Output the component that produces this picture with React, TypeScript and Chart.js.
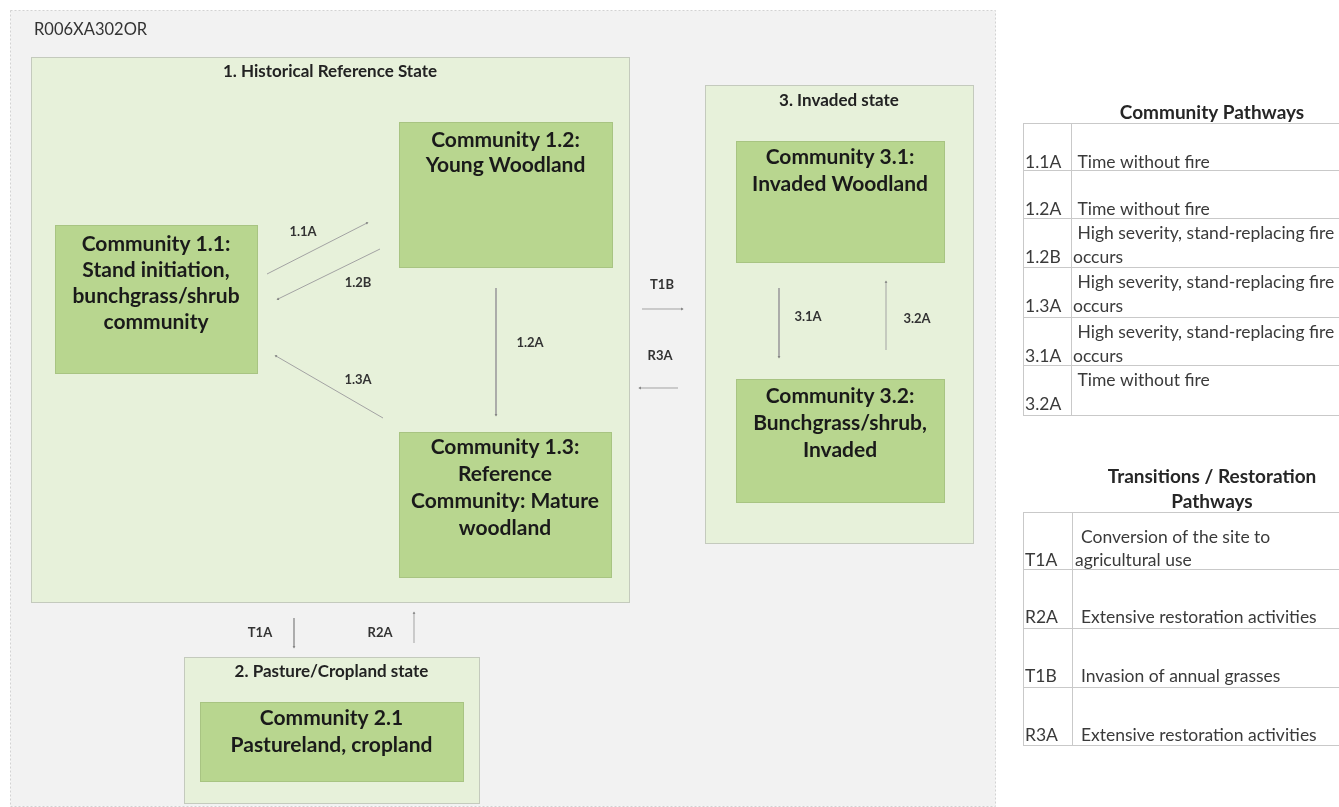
import React, { useEffect, useRef } from "react";
import { Chart, registerables } from "chart.js";

Chart.register(...registerables);

const PAGE_W = 1339;
const PAGE_H = 807;

// ---- Diagram content ----
const diagramId = "R006XA302OR";

const stateNames = [
  "1. Historical Reference State",
  "2. Pasture/Cropland state",
  "3. Invaded state",
];

const communityLines = [
  ["Community 1.1:", "Stand initiation,", "bunchgrass/shrub", "community"],
  ["Community 1.2:", "Young Woodland"],
  ["Community 1.3:", "Reference", "Community: Mature", "woodland"],
  ["Community 2.1", "Pastureland, cropland"],
  ["Community 3.1:", "Invaded Woodland"],
  ["Community 3.2:", "Bunchgrass/shrub,", "Invaded"],
];

const arrowCodes = ["1.1A", "1.2B", "1.2A", "1.3A", "T1B", "R3A", "3.1A", "3.2A", "T1A", "R2A"];

const pathwayCodes = ["1.1A", "1.2A", "1.2B", "1.3A", "3.1A", "3.2A"];
const pathwayTop = ["", "", " High severity, stand-replacing fire", " High severity, stand-replacing fire", " High severity, stand-replacing fire", " Time without fire"];
const pathwayBottom = [" Time without fire", " Time without fire", "occurs", "occurs", "occurs", ""];

const transitionCodes = ["T1A", "R2A", "T1B", "R3A"];
const transitionTop = ["  Conversion of the site to", "", "", ""];
const transitionBottom = ["agricultural use", "  Extensive restoration activities", "  Invasion of annual grasses", "  Extensive restoration activities"];

// ---- Layout (page coordinates) ----
const panelRect = [10, 10, 995, 806];
const stateRects = [
  [31, 57, 629, 602],
  [184, 657, 479, 803],
  [705, 85, 973, 543],
];
const stateTitleY = [72, 672, 101];
const communityRects = [
  [55, 225, 257, 373],
  [399, 122, 612, 267],
  [399, 432, 611, 577],
  [200, 702, 463, 781],
  [736, 141, 944, 262],
  [736, 379, 944, 502],
];
const communityFirstY = [244, 140, 447, 718, 157, 396];
const communityGap = [26, 25, 27, 27, 27, 27];

const arrowFrom = [[267, 274], [380, 249], [496, 288], [383, 418], [642, 309], [678, 388], [779, 288], [886, 350], [294, 618], [414, 643]];
const arrowTo = [[367, 223], [278, 299], [496, 415], [276, 356], [682, 309], [640, 388], [779, 357], [886, 282], [294, 647], [414, 613]];
const labelPos = [[303, 232], [358, 283], [530, 343], [358, 380], [662, 285], [660, 356], [808, 317], [917, 319], [260, 633], [380, 633]];

const pathwayRowLines = [123, 170, 218, 267, 317, 365, 415];
const transitionRowLines = [512, 569, 628, 687, 745];

const FONT = "Lato, 'Open Sans', sans-serif";

function drawDiagram(chart: any) {
  const ctx: CanvasRenderingContext2D = chart.ctx;
  const xs = chart.scales.x;
  const ys = chart.scales.y;
  const px = (v: number) => xs.getPixelForValue(v);
  const py = (v: number) => ys.getPixelForValue(v);

  const rect = (r: number[], fill: string, stroke: string, dash?: number[]) => {
    const x0 = Math.round(px(r[0])) + 0.5;
    const y0 = Math.round(py(r[1])) + 0.5;
    const x1 = Math.round(px(r[2])) + 0.5;
    const y1 = Math.round(py(r[3])) + 0.5;
    ctx.save();
    ctx.fillStyle = fill;
    ctx.fillRect(x0, y0, x1 - x0, y1 - y0);
    ctx.strokeStyle = stroke;
    ctx.lineWidth = 1;
    if (dash) ctx.setLineDash(dash);
    ctx.strokeRect(x0, y0, x1 - x0, y1 - y0);
    ctx.restore();
  };

  const text = (s: string, x: number, y: number, font: string, color: string, align: CanvasTextAlign) => {
    ctx.save();
    ctx.font = font;
    ctx.fillStyle = color;
    ctx.textAlign = align;
    ctx.textBaseline = "middle";
    ctx.fillText(s, px(x), py(y));
    ctx.restore();
  };

  const hline = (x0: number, x1: number, y: number, color: string) => {
    ctx.save();
    ctx.strokeStyle = color;
    ctx.lineWidth = 1;
    ctx.beginPath();
    ctx.moveTo(px(x0), Math.round(py(y)) + 0.5);
    ctx.lineTo(px(x1), Math.round(py(y)) + 0.5);
    ctx.stroke();
    ctx.restore();
  };
  const vline = (x: number, y0: number, y1: number, color: string) => {
    ctx.save();
    ctx.strokeStyle = color;
    ctx.lineWidth = 1;
    ctx.beginPath();
    ctx.moveTo(Math.round(px(x)) + 0.5, py(y0));
    ctx.lineTo(Math.round(px(x)) + 0.5, py(y1));
    ctx.stroke();
    ctx.restore();
  };

  // background panel
  rect(panelRect, "#f2f2f2", "#d2d2d2", [2, 2]);
  text(diagramId, 34, 30, `16.5px ${FONT}`, "#333333", "left");

  // states
  stateRects.forEach((r, i) => {
    rect(r, "#e7f1da", "#c4cabd");
    text(stateNames[i], (r[0] + r[2]) / 2, stateTitleY[i], `bold 17px ${FONT}`, "#222222", "center");
  });

  // communities
  communityRects.forEach((r, i) => {
    rect(r, "#b8d68f", "#a8c482");
    communityLines[i].forEach((line, j) => {
      text(line, (r[0] + r[2]) / 2, communityFirstY[i] + j * communityGap[i], `bold 21px ${FONT}`, "#1a1a1a", "center");
    });
  });

  // arrow labels
  arrowCodes.forEach((c, i) => {
    text(c, labelPos[i][0], labelPos[i][1], `bold 13px ${FONT}`, "#333333", "center");
  });

  // tables
  const tableLeft = 1023;
  const tableDiv = 1071;
  const tableRight = PAGE_W;
  const lineColor = "#c9c9c9";
  const tColor = "#3a3a3a";
  const tFont = `17.5px ${FONT}`;
  const hFont = `bold 19px ${FONT}`;

  text("Community Pathways", 1212, 113, hFont, "#262626", "center");
  pathwayRowLines.forEach((y) => hline(tableLeft, tableRight, y, lineColor));
  vline(tableLeft, pathwayRowLines[0], pathwayRowLines[pathwayRowLines.length - 1], lineColor);
  vline(tableDiv, pathwayRowLines[0], pathwayRowLines[pathwayRowLines.length - 1], lineColor);
  pathwayCodes.forEach((c, i) => {
    const top = pathwayRowLines[i];
    text(c, 1025, top + 39, tFont, tColor, "left");
    if (pathwayTop[i]) text(pathwayTop[i], 1073, top + 15, tFont, tColor, "left");
    if (pathwayBottom[i]) text(pathwayBottom[i], 1073, top + 39, tFont, tColor, "left");
  });

  text("Transitions / Restoration", 1212, 477, hFont, "#262626", "center");
  text("Pathways", 1212, 502, hFont, "#262626", "center");
  transitionRowLines.forEach((y) => hline(tableLeft, tableRight, y, lineColor));
  vline(tableLeft, transitionRowLines[0], transitionRowLines[transitionRowLines.length - 1], lineColor);
  vline(tableDiv + 1, transitionRowLines[0], transitionRowLines[transitionRowLines.length - 1], lineColor);
  transitionCodes.forEach((c, i) => {
    const top = transitionRowLines[i];
    text(c, 1025, top + 48, tFont, tColor, "left");
    if (transitionTop[i]) text(transitionTop[i], 1072, top + 25, tFont, tColor, "left");
    if (transitionBottom[i]) text(transitionBottom[i], i === 0 ? 1075 : 1072, top + 48, tFont, tColor, "left");
  });
}

const diagramPlugin = {
  id: "stateDiagram",
  beforeDatasetsDraw(chart: any) {
    drawDiagram(chart);
  },
};

export default function App() {
  const canvasRef = useRef<HTMLCanvasElement | null>(null);

  useEffect(() => {
    const canvas = canvasRef.current;
    if (!canvas) return;

    const datasets = arrowCodes.map((code, i) => {
      const [x0, y0] = arrowFrom[i];
      const [x1, y1] = arrowTo[i];
      const rot = (Math.atan2(y1 - y0, x1 - x0) * 180) / Math.PI + 90;
      return {
        label: code,
        data: [
          { x: x0, y: y0 },
          { x: x1, y: y1 },
        ],
        showLine: true,
        borderColor: "#a3a3a3",
        borderWidth: 1,
        pointStyle: "triangle",
        pointRadius: [0, 1.6],
        pointRotation: [0, rot],
        pointBackgroundColor: "#7a7a7a",
        pointBorderColor: "#7a7a7a",
        pointBorderWidth: 0,
        clip: false,
      };
    });

    const chart = new Chart(canvas, {
      type: "scatter",
      data: { datasets: datasets as any },
      options: {
        animation: false,
        responsive: true,
        maintainAspectRatio: false,
        events: [],
        layout: { padding: 0, autoPadding: false },
        scales: {
          x: { type: "linear", min: 0, max: PAGE_W, display: false },
          y: { type: "linear", min: 0, max: PAGE_H, reverse: true, display: false },
        },
        plugins: {
          legend: { display: false },
          tooltip: { enabled: false },
          title: { display: false },
        },
      },
      plugins: [diagramPlugin],
    });

    return () => chart.destroy();
  }, []);

  return (
    <div
      style={{
        position: "fixed",
        left: 0,
        top: 0,
        width: PAGE_W,
        height: PAGE_H,
        background: "#ffffff",
        overflow: "hidden",
      }}
    >
      <canvas ref={canvasRef} />
    </div>
  );
}
